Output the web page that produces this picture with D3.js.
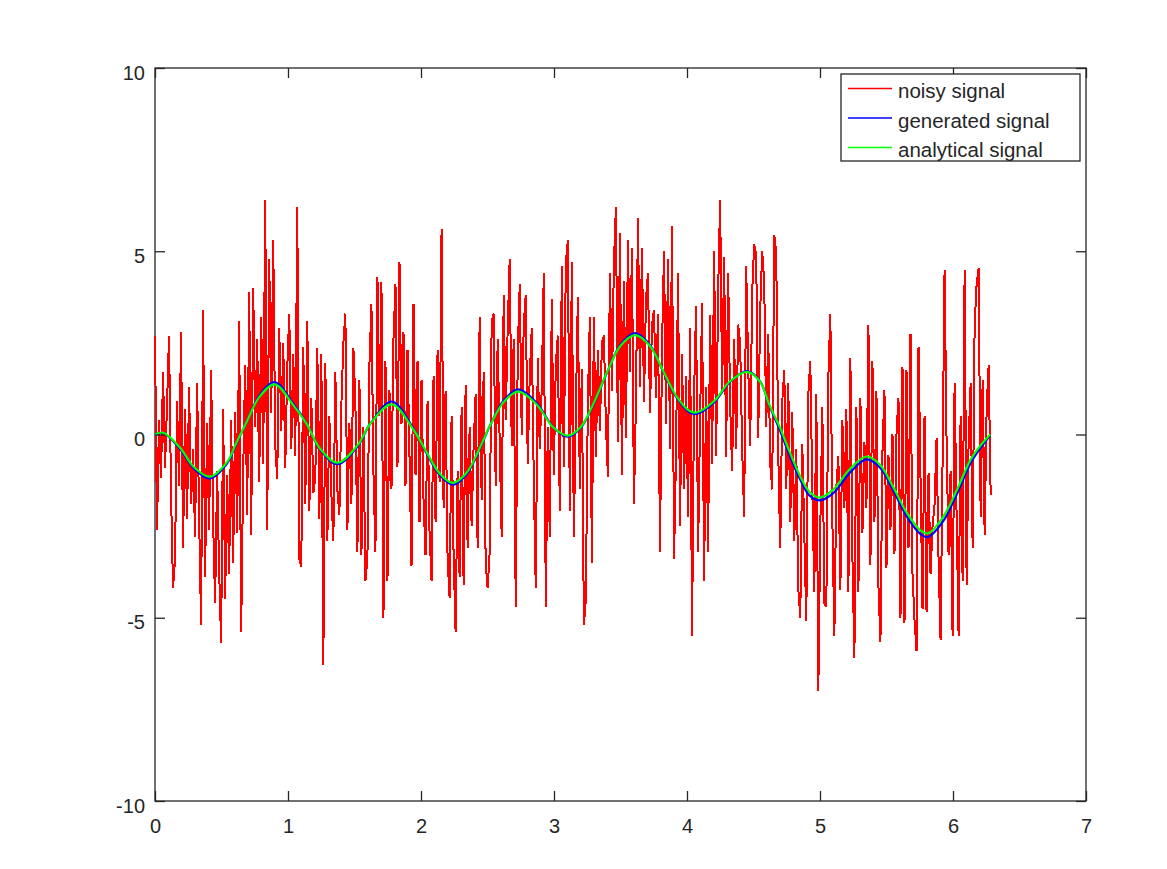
<!DOCTYPE html>
<html>
<head>
<meta charset="utf-8">
<script src="https://cdn.jsdelivr.net/npm/d3@7"></script>
<style>
  body { margin: 0; background: #fff; }
  svg { display: block; font-family: 'Liberation Sans', Arial, sans-serif; }
</style>
</head>
<body>
<svg width="1167" height="869"></svg>
<script>
// 目盛り
const xTicks = [0, 1, 2, 3, 4, 5, 6, 7]
const yTicks = [-10, -5, 0, 5, 10]

// 凡例
const seriesNames = ['noisy signal', 'generated signal', 'analytical signal']
const seriesColors = ['#ff0000', '#0000ff', '#00ff00']

// ノイズ信号（0 〜 2π を等間隔に並べた値、図から読み取り）
const xEnd = 6.2832
const noisyY = [
  2.7, -2.6, 0.4, -1.2, 1.7, -0.9, 0.8, 2.7, -1.6, -4.2, -3.4, 0.9, -1.4, 2.8, -3.1, 0.7, -2.3, 1.3, -1.9, -0.4,
  -2.8, 1.4, -2.2, -5.2, 3.4, -3.9, 0.3, -2.6, 1.75, -2.4, -4.6, -1.0, -3.7, -5.7, 0.7, -4.5, -1.1, -3.8, 0.4, -3.5,
  0.6, -2.7, 3.1, -5.4, -1.0, 1.9, -2.2, 3.9, -2.75, 4.0, 0.2, 2.6, -1.3, 3.2, -0.8, 6.4, -2.6, 4.8, 0.6, 5.3,
  -0.3, -1.2, 2.9, 0.1, 2.5, -0.9, 1.8, 3.3, -0.4, 2.2, -0.6, 6.2, -3.4, -3.6, 2.4, -1.9, 3.1, -2.1, 1.0, -1.6,
  -1.2, 2.35, -2.3, 2.2, -6.3, 1.95, -2.9, 0.5, -1.6, -2.9, 1.7, -1.5, -2.2, 0.8, 2.5, 3.3, -2.6, 0.3, -1.9, 2.35,
  0.9, -3.2, 1.5, -3.3, 0.2, -4.0, -3.4, 1.9, 3.55, -1.0, -3.2, 4.3, 0.5, 4.15, -5.0, 2.0, -4.0, 1.2, -1.5, 2.6,
  4.1, -0.9, 4.7, 0.3, 2.8, -1.4, 2.3, -0.6, -3.6, 3.55, -1.1, 2.0, -2.4, 1.5, -1.8, -3.3, 0.9, -2.7, -4.0, 1.6,
  -2.4, 2.3, -1.3, 5.6, -2.0, 1.2, -3.4, -4.45, 0.5, -3.3, -5.4, -1.0, -3.9, 0.75, -4.1, 1.35, -3.1, 0.2, -2.5, -0.3,
  1.1, -3.1, 3.2, -1.8, 1.7, -3.5, -4.2, -3.2, 3.1, 3.3, -1.4, 2.6, -0.2, -2.8, 3.8, 0.4, 2.9, 4.8, -0.3, 2.6,
  -4.7, 2.2, 4.1, 0.0, 3.0, 3.8, -0.8, 1.6, 2.9, -1.2, -4.2, 2.1, -0.4, 1.3, 4.4, -4.7, 0.2, -2.8, 3.7, -1.1,
  1.9, 2.7, -2.1, 4.6, -0.9, 4.7, 5.3, -2.1, 4.7, -2.8, 0.6, 3.75, -1.5, 1.8, -5.2, -4.5, 0.9, 3.2, -3.5, 3.2,
  -0.6, 2.3, 0.1, 2.5, 2.7, 0.3, -1.15, 4.4, 1.2, 4.7, 6.2, -0.2, 5.5, -1.1, 4.2, -0.1, 5.3, 1.7, 5.1, -1.9,
  0.9, 5.9, 1.3, 5.1, 0.9, 3.7, 4.4, 0.6, 3.0, 3.4, 1.0, 3.3, -3.2, 2.4, 5.0, 0.3, 4.8, -0.4, 5.7, -3.4,
  -0.5, 4.4, -2.5, 2.2, -1.5, 1.6, -2.25, 2.9, -5.5, 1.1, 3.5, -3.2, 0.4, 3.6, -4.0, 1.3, -3.2, 3.25, -0.8, 5.0,
  -0.6, 3.9, 6.4, 1.2, 4.85, -0.6, 4.4, 0.8, -1.0, 2.6, -0.4, 3.0, 2.5, -0.4, -2.25, 4.6, 1.9, -0.3, 3.9, 5.2,
  4.9, -0.1, 3.4, 5.0, 4.15, 0.2, 2.75, -0.8, -1.5, 5.45, 4.95, -0.5, -3.1, 0.9, 1.75, -1.5, 1.4, -2.4, 0.6, -2.9,
  -0.4, -4.2, -5.0, -0.25, -2.7, -5.1, 1.1, 2.0, -1.5, -4.3, 1.1, -7.0, -2.5, 0.75, -4.6, -4.7, 1.55, 3.3, -2.3, -5.5,
  -1.4, -0.6, -4.25, 0.4, -2.0, 0.7, -4.3, 2.1, -3.3, -6.1, 0.75, -4.3, 1.0, -2.7, -0.2, -2.0, 3.0, -3.55, 2.0, -2.4,
  1.2, -4.15, -5.65, -0.5, 1.2, -3.65, -0.55, -2.6, 0.0, -3.25, 0.0, 1.0, -5.0, 1.85, -5.15, 1.75, -3.1, 2.74, -3.8, -5.06,
  -5.9, 2.4, -1.2, -4.75, 0.5, -4.85, -1.05, -3.8, -2.5, -1.9, -0.1, -3.4, -5.6, -0.75, 4.5, -0.15, -3.3, -1.0, -5.5, 1.4,
  -2.2, -5.5, 0.5, -4.0, 4.5, -4.1, -0.2, 1.4, -3.1, 3.0, 4.1, 4.55, -2.25, 1.5, -2.75, 0.75, 1.9, -1.65
]

// なめらかな信号（読み取った点、間は曲線でつなぐ）
const smoothX = [0, 0.06, 0.19, 0.29, 0.41, 0.54, 0.61, 0.69, 0.78, 0.90, 1.04, 1.14, 1.24, 1.37, 1.52, 1.62,
  1.78, 1.94, 2.04, 2.14, 2.24, 2.34, 2.44, 2.52, 2.62, 2.73, 2.87, 2.99, 3.10, 3.20, 3.30, 3.40, 3.50, 3.61,
  3.72, 3.82, 3.92, 4.02, 4.07, 4.20, 4.32, 4.45, 4.55, 4.62, 4.70, 4.77, 4.85, 4.92, 5.00, 5.10, 5.23, 5.35,
  5.45, 5.55, 5.65, 5.75, 5.81, 5.92, 6.03, 6.13, 6.20, 6.28]
const generatedY = [0, 0.04, -0.4, -0.92, -1.2, -0.8, -0.26, 0.35, 1.03, 1.43, 0.84, 0.3, -0.4, -0.81, -0.34, 0.3,
  0.9, 0.18, -0.5, -1.1, -1.37, -1.1, -0.4, 0.25, 0.92, 1.23, 0.86, 0.22, -0.06, 0.18, 0.85, 1.7, 2.45, 2.77,
  2.45, 1.72, 1.02, 0.6, 0.56, 0.86, 1.42, 1.73, 1.45, 0.78, 0.1, -0.56, -1.22, -1.66, -1.8, -1.6, -1.02, -0.68,
  -0.9, -1.52, -2.22, -2.7, -2.8, -2.4, -1.62, -0.8, -0.4, -0.02]
const analyticalY = [0, 0.05, -0.37, -0.88, -1.15, -0.76, -0.24, 0.35, 1.0, 1.37, 0.8, 0.29, -0.38, -0.77, -0.31, 0.3,
  0.82, 0.15, -0.47, -1.06, -1.32, -1.06, -0.38, 0.25, 0.88, 1.17, 0.82, 0.21, -0.03, 0.2, 0.87, 1.71, 2.42, 2.71,
  2.42, 1.74, 1.05, 0.64, 0.6, 0.9, 1.44, 1.71, 1.44, 0.8, 0.18, -0.46, -1.13, -1.56, -1.72, -1.5, -0.92, -0.6,
  -0.82, -1.43, -2.12, -2.6, -2.7, -2.28, -1.51, -0.7, -0.33, 0]

const axisColor = '#262626'
const svg = d3.select('svg')

// 描画領域 155..1086 x 68..801
const xScale = d3.scaleLinear().domain([0, 7]).range([155, 1086])
const yScale = d3.scaleLinear().domain([-10, 10]).range([801, 68])

const noisyPts = noisyY.map((v, i) => [i * xEnd / (noisyY.length - 1), v])
const genPts = smoothX.map((x, i) => [x, generatedY[i]])
const anaPts = smoothX.map((x, i) => [x, analyticalY[i]])

const rawLine = d3.line()
  .x((d) => xScale(d[0]))
  .y((d) => yScale(d[1]))
const smoothLine = d3.line()
  .x((d) => xScale(d[0]))
  .y((d) => yScale(d[1]))
  .curve(d3.curveCatmullRom.alpha(0.5))

// 目盛りラベルはハイフンのマイナス
const plainFormat = (d) => String(d)

// 枠
svg.append('rect')
  .attr('x', 155).attr('y', 68)
  .attr('width', 1086 - 155).attr('height', 801 - 68)
  .attr('fill', 'none')
  .attr('stroke', axisColor)
  .attr('stroke-width', 1.3)

// 線
svg.append('path')
  .datum(noisyPts)
  .attr('d', rawLine)
  .attr('fill', 'none')
  .attr('stroke', seriesColors[0])
  .attr('stroke-width', 2)
  .attr('stroke-linejoin', 'bevel')
  .attr('shape-rendering', 'crispEdges')

svg.append('path')
  .datum(genPts)
  .attr('d', smoothLine)
  .attr('fill', 'none')
  .attr('stroke', seriesColors[1])
  .attr('stroke-width', 2.2)

svg.append('path')
  .datum(anaPts)
  .attr('d', smoothLine)
  .attr('fill', 'none')
  .attr('stroke', seriesColors[2])
  .attr('stroke-width', 2.2)

// 軸（目盛りは内向き、四辺）
const styleAxis = (g) => {
  g.select('.domain').remove()
  g.selectAll('line').attr('stroke', axisColor).attr('stroke-width', 1.3)
  g.selectAll('text').attr('fill', axisColor).style('font-size', '20px')
    .style('font-family', "'Liberation Sans', Arial, sans-serif")
}

svg.append('g')
  .attr('transform', 'translate(0,801)')
  .call(d3.axisBottom(xScale).tickValues(xTicks).tickSize(-10).tickPadding(18).tickFormat(plainFormat))
  .call(styleAxis)

svg.append('g')
  .attr('transform', 'translate(0,68)')
  .call(d3.axisTop(xScale).tickValues(xTicks).tickSize(-10).tickFormat(''))
  .call(styleAxis)

svg.append('g')
  .attr('transform', 'translate(155,0)')
  .call(d3.axisLeft(yScale).tickValues(yTicks).tickSize(-10).tickPadding(10).tickFormat(plainFormat))
  .call(styleAxis)
  .call((g) => g.selectAll('text').attr('dy', '0.55em'))

svg.append('g')
  .attr('transform', 'translate(1086,0)')
  .call(d3.axisRight(yScale).tickValues(yTicks).tickSize(-10).tickFormat(''))
  .call(styleAxis)

// 凡例
const legend = svg.append('g')
legend.append('rect')
  .attr('x', 841).attr('y', 74)
  .attr('width', 239).attr('height', 87)
  .attr('fill', '#fff')
  .attr('stroke', axisColor)
  .attr('stroke-width', 1.3)

seriesNames.forEach((name, i) => {
  const y = 88.5 + i * 29.5
  legend.append('line')
    .attr('x1', 848).attr('x2', 892)
    .attr('y1', y).attr('y2', y)
    .attr('stroke', seriesColors[i])
    .attr('stroke-width', 1.5)
  legend.append('text')
    .attr('x', 898).attr('y', y + 9.5)
    .attr('fill', axisColor)
    .style('font-size', '20.5px')
    .text(name)
})
</script>
</body>
</html>
